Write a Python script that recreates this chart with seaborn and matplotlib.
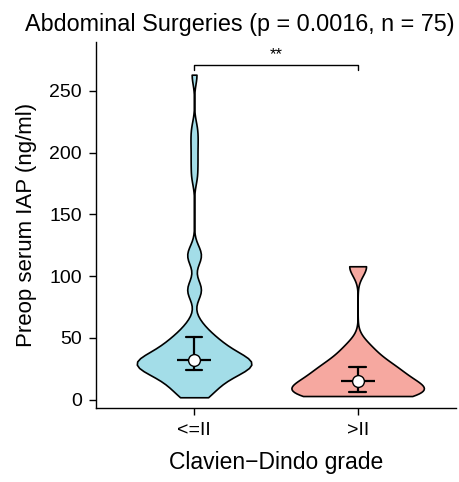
import matplotlib
matplotlib.use("Agg")
import matplotlib.pyplot as plt
import numpy as np
import pandas as pd
import seaborn as sns

# data (Preop serum IAP, ng/ml)
grades = ["<=II", ">II"]
iap_low = [2, 3, 5, 7, 9, 11, 13, 15, 17, 18, 19, 20, 21, 22, 23,
           24, 25, 26, 27, 27, 28, 28, 29, 29, 30, 30, 31, 31, 32, 32,
           32, 33, 34, 35, 36, 38, 39, 40, 42, 43, 44, 45, 47, 48, 50,
           52, 55, 58, 63, 86, 89, 92, 114, 117, 120, 181, 194, 207, 219, 263]
iap_high = [3, 4, 5, 6, 7, 9, 12, 15, 18, 22, 25, 28, 34, 43, 108]
colors = ["#A3DDE8", "#F6A8A0"]
yticks = [0, 50, 100, 150, 200, 250]

df = pd.DataFrame({
    "grade": [grades[0]] * len(iap_low) + [grades[1]] * len(iap_high),
    "iap": iap_low + iap_high,
})

sns.set_style("white")
plt.rcParams["font.family"] = ["Liberation Sans", "DejaVu Sans"]
plt.rcParams["text.color"] = "black"
plt.rcParams["axes.labelcolor"] = "black"

fig = plt.figure(figsize=(4.59, 4.82), dpi=100)
ax = fig.add_axes([0.209, 0.1535, 0.784, 0.7595])

# one violin per group so each keeps its own bandwidth
for grade, col, bw, wd in zip(grades, colors, [0.30, 0.5], [0.70, 0.81]):
    sub = df[df["grade"] == grade]
    sns.violinplot(data=sub, x="grade", y="iap", order=grades, color=col,
                   inner=None, cut=0, density_norm="width", width=wd,
                   bw_adjust=bw, linewidth=1.2, linecolor="black",
                   saturation=1, ax=ax)

# median with interquartile range
sns.pointplot(data=df, x="grade", y="iap", order=grades, estimator="median",
              errorbar=("pi", 50), capsize=0.1, color="black", linestyle="none",
              markers="_", markersize=24, markeredgewidth=1.6,
              err_kws={"linewidth": 1.6}, ax=ax)
sns.pointplot(data=df, x="grade", y="iap", order=grades, estimator="median",
              errorbar=None, color="black", linestyle="none", markers="o",
              markersize=8.5, markerfacecolor="white", markeredgewidth=1.0, ax=ax)

# significance bracket
top = max(iap_low + iap_high) + 8
ax.plot([0, 0, 1, 1], [top - 4.5, top, top, top - 4.5], color="black", linewidth=1.0)
ax.text(0.5, top + 2, "**", ha="center", va="bottom", fontsize=12)

ax.set_xlim(-0.6, 1.6)
ax.set_ylim(-6.7, 289.5)
ax.set_yticks(yticks)
fig.text(0.523, 0.9357, "Abdominal Surgeries (p = 0.0016, n = 75)",
         ha="center", va="baseline", fontsize=16.8)
ax.set_xlabel("Clavien\u2212Dindo grade", fontsize=16.5, labelpad=9)
ax.set_ylabel("Preop serum IAP (ng/ml)", fontsize=16, labelpad=9)
ax.tick_params(axis="both", labelsize=14, length=5, width=1, direction="out",
               pad=5, left=True, bottom=True, colors="black")
sns.despine(ax=ax)
for side in ["left", "bottom"]:
    ax.spines[side].set_color("black")
    ax.spines[side].set_linewidth(1)

fig.savefig("out.png", dpi=100)
plt.close(fig)
